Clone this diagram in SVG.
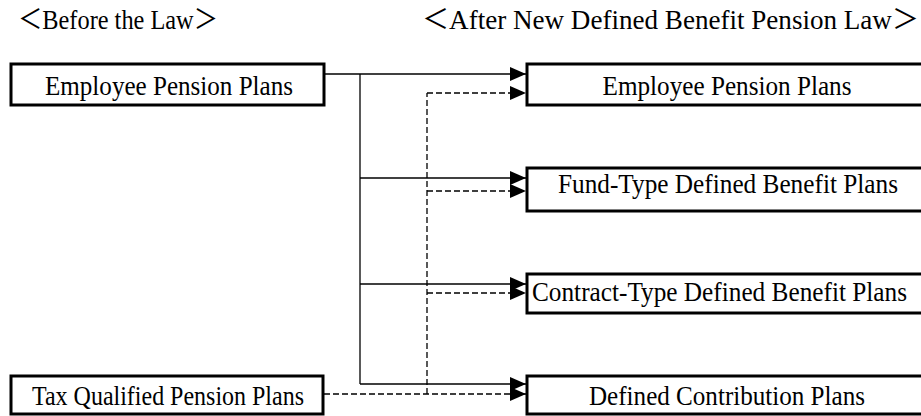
<svg xmlns="http://www.w3.org/2000/svg" width="921" height="416" viewBox="0 0 921 416">
<defs>
<style>
.box{fill:#fff;stroke:#000;stroke-width:3}
.t{font-family:"Liberation Serif","Times New Roman","Noto Sans CJK JP",serif;font-size:27px;fill:#000}
.c{text-anchor:middle}
.s{fill:none;stroke:#000;stroke-width:1.3}
.d{fill:none;stroke:#000;stroke-width:1.3;stroke-dasharray:6,3}
</style>
<marker id="ah" markerUnits="userSpaceOnUse" markerWidth="16" markerHeight="14" refX="16" refY="7" orient="auto">
<path d="M0,0 L16,7 L0,14 Z" fill="#000"/>
</marker>
</defs>
<text class="t" x="18" y="29" textLength="200" lengthAdjust="spacingAndGlyphs">＜Before the Law＞</text>
<text class="t" x="422" y="29" textLength="497" lengthAdjust="spacingAndGlyphs">＜After New Defined Benefit Pension Law＞</text>
<g id="connectors">
<path class="s" d="M324,74 H526" marker-end="url(#ah)"/>
<path class="s" d="M360,74 V384"/>
<path class="s" d="M360,178 H526" marker-end="url(#ah)"/>
<path class="s" d="M360,284 H526" marker-end="url(#ah)"/>
<path class="s" d="M360,384 H526" marker-end="url(#ah)"/>
<path class="d" d="M427,394 V93"/>
<path class="d" d="M427,93 H526" marker-end="url(#ah)"/>
<path class="d" d="M427,191 H526" marker-end="url(#ah)"/>
<path class="d" d="M427,293 H526" marker-end="url(#ah)"/>
<path class="d" d="M324,394 H526" marker-end="url(#ah)"/>
</g>
<g id="before-epp">
<rect class="box" x="11" y="64" width="313" height="41"/>
<text class="t c" x="169" y="95" textLength="248" lengthAdjust="spacingAndGlyphs">Employee Pension Plans</text>
</g>
<g id="before-tqpp">
<rect class="box" x="11" y="376" width="312" height="38"/>
<text class="t c" x="168" y="405" textLength="272" lengthAdjust="spacingAndGlyphs">Tax Qualified Pension Plans</text>
</g>
<g id="after-epp">
<rect class="box" x="527" y="64" width="402" height="41"/>
<text class="t c" x="727" y="95" textLength="249" lengthAdjust="spacingAndGlyphs">Employee Pension Plans</text>
</g>
<g id="after-fund">
<rect class="box" x="527" y="168" width="402" height="43"/>
<text class="t c" x="728" y="193" textLength="340" lengthAdjust="spacingAndGlyphs">Fund-Type Defined Benefit Plans</text>
</g>
<g id="after-contract">
<rect class="box" x="527" y="274" width="402" height="39"/>
<text class="t" x="532" y="301" textLength="375" lengthAdjust="spacingAndGlyphs">Contract-Type Defined Benefit Plans</text>
</g>
<g id="after-dc">
<rect class="box" x="527" y="376" width="402" height="38"/>
<text class="t c" x="727" y="405" textLength="276" lengthAdjust="spacingAndGlyphs">Defined Contribution Plans</text>
</g>
</svg>
